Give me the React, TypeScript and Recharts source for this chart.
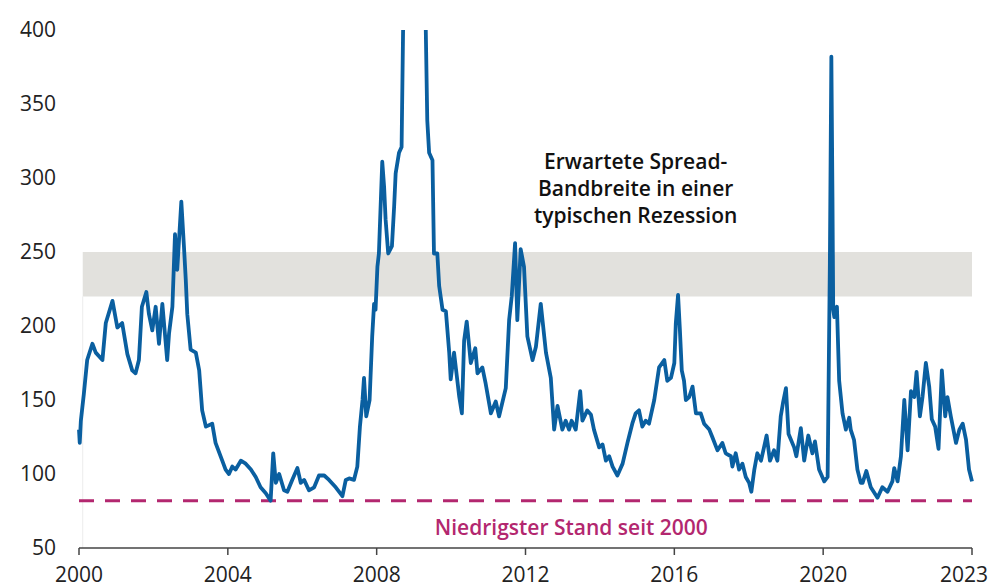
import { LineChart, Line, XAxis, YAxis, ReferenceArea, ReferenceLine, ReferenceDot } from 'recharts';

// Spread (bp): decimal year / value
const YEARS = [
  2000.0, 2000.02, 2000.05, 2000.13, 2000.22, 2000.36, 2000.45, 2000.63, 2000.72, 2000.9,
  2001.03, 2001.16, 2001.3, 2001.43, 2001.52, 2001.61, 2001.69, 2001.81, 2001.88, 2001.97,
  2002.06, 2002.15, 2002.24, 2002.37, 2002.42, 2002.51, 2002.58, 2002.64, 2002.75, 2002.82,
  2002.87, 2002.91, 2003.0, 2003.14, 2003.23, 2003.31, 2003.41, 2003.58, 2003.67, 2003.85,
  2003.94, 2004.03, 2004.12, 2004.21, 2004.35, 2004.48, 2004.62, 2004.75, 2004.88, 2005.02,
  2005.15, 2005.22, 2005.29, 2005.38, 2005.51, 2005.6, 2005.73, 2005.87, 2005.96, 2006.05,
  2006.18, 2006.32, 2006.45, 2006.59, 2006.72, 2006.9, 2007.08, 2007.17, 2007.26, 2007.39,
  2007.48, 2007.55, 2007.62, 2007.66, 2007.72, 2007.81, 2007.88, 2007.93, 2007.97, 2008.02,
  2008.06, 2008.15, 2008.2, 2008.24, 2008.31, 2008.41, 2008.47, 2008.51, 2008.6, 2008.67,
  2008.71, 2008.8, 2008.95, 2009.05, 2009.15, 2009.25, 2009.32, 2009.36, 2009.41, 2009.5,
  2009.54, 2009.63, 2009.68, 2009.77, 2009.86, 2009.95, 2009.99, 2010.08, 2010.22, 2010.29,
  2010.35, 2010.42, 2010.53, 2010.65, 2010.71, 2010.84, 2010.93, 2011.07, 2011.2, 2011.29,
  2011.47, 2011.56, 2011.63, 2011.72, 2011.78, 2011.87, 2011.96, 2012.05, 2012.19, 2012.28,
  2012.41, 2012.55, 2012.68, 2012.77, 2012.86, 2012.99, 2013.08, 2013.17, 2013.24, 2013.35,
  2013.47, 2013.53, 2013.66, 2013.76, 2013.84, 2013.98, 2014.07, 2014.16, 2014.25, 2014.34,
  2014.47, 2014.61, 2014.74, 2014.87, 2014.96, 2015.05, 2015.14, 2015.23, 2015.32, 2015.46,
  2015.59, 2015.73, 2015.81, 2015.91, 2016.0, 2016.04, 2016.1, 2016.15, 2016.2, 2016.26,
  2016.31, 2016.4, 2016.49, 2016.58, 2016.71, 2016.8, 2016.94, 2017.02, 2017.16, 2017.29,
  2017.38, 2017.52, 2017.56, 2017.65, 2017.74, 2017.83, 2017.92, 2018.01, 2018.07, 2018.15,
  2018.23, 2018.33, 2018.41, 2018.48, 2018.57, 2018.68, 2018.77, 2018.86, 2018.92, 2019.0,
  2019.07, 2019.22, 2019.28, 2019.4, 2019.49, 2019.6, 2019.71, 2019.78, 2019.89, 2020.03,
  2020.12, 2020.18, 2020.22, 2020.25, 2020.27, 2020.3, 2020.37, 2020.43, 2020.52, 2020.61,
  2020.7, 2020.74, 2020.83, 2020.92, 2021.01, 2021.06, 2021.16, 2021.28, 2021.46, 2021.59,
  2021.73, 2021.86, 2021.91, 2022.0, 2022.09, 2022.18, 2022.27, 2022.36, 2022.45, 2022.51,
  2022.6, 2022.67, 2022.76, 2022.85, 2022.92, 2023.01, 2023.1, 2023.19, 2023.28, 2023.34,
  2023.43, 2023.57, 2023.66, 2023.75, 2023.84, 2023.92, 2024.0,
];

const SPREADS = [
  130, 121, 136, 154, 177, 188, 182, 177, 202, 217,
  199, 202, 181, 170, 168, 177, 213, 223, 208, 197,
  213, 188, 215, 177, 195, 213, 262, 238, 284, 254,
  231, 208, 184, 182, 170, 143, 132, 134, 121, 109,
  103, 100, 105, 103, 109, 107, 103, 98, 91, 87,
  82, 114, 94, 100, 89, 88, 96, 104, 94, 96,
  89, 91, 99, 99, 96, 91, 85, 96, 97, 96,
  105, 132, 150, 165, 139, 150, 193, 215, 211, 240,
  249, 311, 294, 272, 249, 254, 281, 303, 317, 321,
  400, 470, 600, 580, 520, 450, 400, 339, 317, 312,
  249, 249, 227, 211, 210, 182, 164, 182, 152, 141,
  190, 203, 175, 185, 168, 172, 161, 141, 149, 139,
  158, 204, 220, 256, 204, 252, 240, 193, 177, 186,
  215, 182, 165, 130, 146, 130, 136, 130, 136, 130,
  156, 136, 143, 140, 130, 118, 120, 109, 112, 105,
  99, 107, 121, 134, 141, 143, 132, 136, 134, 150,
  172, 177, 163, 165, 175, 202, 221, 197, 170, 163,
  150, 152, 159, 141, 141, 134, 130, 125, 116, 121,
  114, 112, 105, 114, 103, 107, 98, 94, 88, 103,
  114, 109, 118, 126, 109, 116, 109, 139, 148, 158,
  127, 118, 112, 131, 109, 126, 114, 122, 103, 95,
  98, 242, 382, 287, 211, 206, 213, 163, 141, 130,
  138, 130, 123, 103, 94, 94, 102, 91, 84, 91,
  88, 95, 104, 95, 112, 150, 116, 156, 152, 169,
  139, 152, 175, 159, 137, 132, 117, 170, 139, 152,
  139, 121, 130, 134, 123, 103, 95,
];

const Y_TICKS = [50, 100, 150, 200, 250, 300, 350, 400];
const X_TICKS = [2000, 2004, 2008, 2012, 2016, 2020, 2024];
const X_TICK_LABELS = ['2000', '2004', '2008', '2012', '2016', '2020', '2023'];

const RECESSION_BAND = [220, 250];
const LOWEST_SINCE_2000 = 82;
const BAND_NOTE = ['Erwartete Spread-', 'Bandbreite in einer', 'typischen Rezession'];
const LOWEST_NOTE = ['Niedrigster Stand seit 2000'];

const BLUE = '#0a5fa0';
const MAGENTA = '#b3276f';
const FONT = '"Open Sans", sans-serif';

const data = YEARS.map((x, i) => ({ x, spread: SPREADS[i] }));

const XTick = ({ x, y, payload }: any) => {
  const i = X_TICKS.indexOf(payload.value);
  const last = i === X_TICKS.length - 1;
  return (
    <text x={last ? x - 8 : x} y={y} dy="0.71em" textAnchor="middle" fontSize={21} fill="#222" fontFamily={FONT}>
      {X_TICK_LABELS[i]}
    </text>
  );
};

const note = (lines: string[], color: string) => (props: any) => {
  const { x, y } = props.viewBox;
  return (
    <text x={x} y={y} textAnchor="middle" fontSize={21} fontWeight={600} fill={color} fontFamily={FONT}>
      {lines.map((l, i) => (
        <tspan key={i} x={x} dy={i === 0 ? 0 : 27}>
          {l}
        </tspan>
      ))}
    </text>
  );
};

export default function App() {
  return (
    <div style={{ position: 'absolute', left: 0, top: 0, background: '#fff' }}>
      <LineChart width={995} height={588} data={data} margin={{ top: 30, right: 23, bottom: 0, left: 19 }}>
        <ReferenceArea
          x1={2000.1}
          x2={2024}
          y1={RECESSION_BAND[0]}
          y2={RECESSION_BAND[1]}
          fill="#e2e1dd"
          fillOpacity={1}
          stroke="none"
        />
        <ReferenceLine
          segment={[{ x: 2000.1, y: 50 }, { x: 2000.1, y: RECESSION_BAND[0] }]}
          stroke="#ececec"
          strokeWidth={1}
        />
        <XAxis
          dataKey="x"
          type="number"
          domain={[2000, 2024]}
          ticks={X_TICKS}
          height={40}
          tick={<XTick />}
          tickSize={7}
          tickMargin={12}
          axisLine={{ stroke: '#444', strokeWidth: 1.5 }}
          tickLine={{ stroke: '#444', strokeWidth: 1.5 }}
        />
        <YAxis
          domain={[50, 400]}
          ticks={Y_TICKS}
          allowDataOverflow
          width={60}
          axisLine={false}
          tickLine={false}
          tickSize={0}
          tickMargin={23}
          tick={{ fontSize: 21, fill: '#222', fontFamily: FONT }}
        />
        <ReferenceLine
          y={LOWEST_SINCE_2000}
          stroke={MAGENTA}
          strokeWidth={3}
          strokeDasharray="15 11"
        />
        <Line
          type="linear"
          dataKey="spread"
          stroke={BLUE}
          strokeWidth={3.8}
          strokeLinejoin="round"
          dot={false}
          isAnimationActive={false}
        />
        <ReferenceDot x={2014.96} y={306} r={0} fill="none" stroke="none" label={{ content: note(BAND_NOTE, '#111') }} />
        <ReferenceDot x={2013.23} y={58.8} r={0} fill="none" stroke="none" label={{ content: note(LOWEST_NOTE, MAGENTA) }} />
      </LineChart>
    </div>
  );
}
